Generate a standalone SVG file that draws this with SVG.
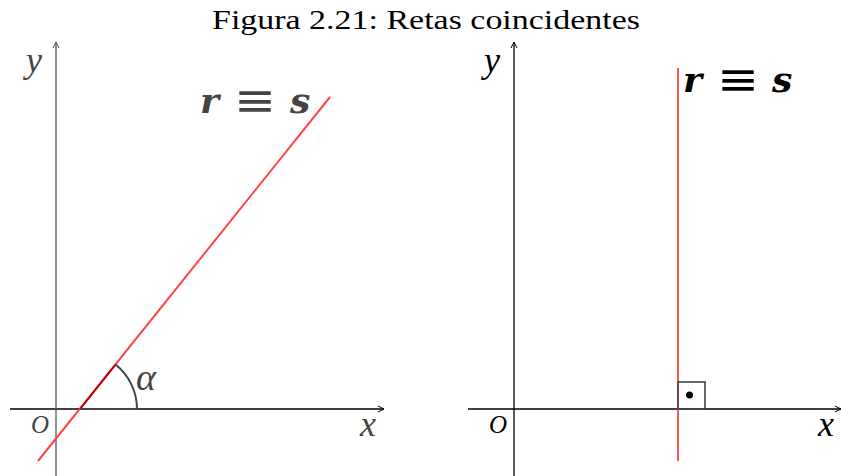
<svg xmlns="http://www.w3.org/2000/svg" width="841" height="476" viewBox="0 0 841 476">
<style>
.t{font-family:"Liberation Serif","DejaVu Serif",serif}
.m{font-family:"Liberation Serif","DejaVu Serif",serif;font-style:italic}
.b{font-family:"DejaVu Serif","Liberation Serif",serif;font-style:italic;font-weight:bold}
.eq{font-family:"DejaVu Sans","Liberation Sans",sans-serif}
.ax{stroke-width:1.3;fill:none}
</style>
<defs>
<marker id="ag" markerWidth="8" markerHeight="8" refX="7" refY="4" orient="auto" markerUnits="userSpaceOnUse"><path d="M1,1 L7,4 L1,7" fill="none" stroke="#555" stroke-width="1"/></marker>
<marker id="ak" markerWidth="8" markerHeight="8" refX="7" refY="4" orient="auto" markerUnits="userSpaceOnUse"><path d="M1,1 L7,4 L1,7" fill="none" stroke="#000" stroke-width="1"/></marker>
</defs>
<rect width="841" height="476" fill="#fff"/>
<text class="t" x="212" y="29" font-size="28" textLength="428" lengthAdjust="spacingAndGlyphs" fill="#000">Figura 2.21: Retas coincidentes</text>

<g id="left">
<g id="axes-left">
<line class="ax" x1="10" y1="409" x2="384" y2="409" stroke="#000" marker-end="url(#ak)"/>
<line class="ax" x1="56" y1="476" x2="56" y2="42" stroke="#555" marker-end="url(#ag)"/>
</g>
<g id="line-rs-left">
<line x1="38" y1="461" x2="330" y2="97" stroke="#f44" stroke-width="2"/>
<line x1="80" y1="409" x2="115.6" y2="364.5" stroke="#b00" stroke-width="2"/>
</g>
<g id="angle-alpha">
<path d="M80,409 L137,409 A57,57 0 0 0 115.6,364.5" fill="none" stroke="#444" stroke-width="2"/>
<text class="m" x="136" y="390" font-size="38" fill="#444">α</text>
</g>
<text class="m" x="31" y="433" font-size="25" fill="#444">O</text>
<text class="m" x="360" y="436" font-size="36" fill="#444">x</text>
<text class="m" x="26" y="72" font-size="36" fill="#444">y</text>
<g id="label-rs-left" fill="#444">
<text class="b" x="200" y="113" font-size="36">r</text>
<text class="eq" x="234" y="116" font-size="46" textLength="42" lengthAdjust="spacingAndGlyphs">≡</text>
<text class="b" x="290" y="113" font-size="36">s</text>
</g>
</g>

<g id="right">
<g id="axes-right">
<line class="ax" x1="468" y1="409" x2="841" y2="409" stroke="#000" marker-end="url(#ak)"/>
<line class="ax" x1="514" y1="476" x2="514" y2="42" stroke="#000" marker-end="url(#ak)"/>
</g>
<line id="line-rs-right" x1="678" y1="68" x2="678" y2="461" stroke="#f55" stroke-width="2"/>
<g id="right-angle">
<rect x="678" y="382" width="27" height="27" fill="none" stroke="#444" stroke-width="1.6"/>
<circle cx="689.5" cy="395" r="3.5" fill="#000"/>
</g>
<text class="m" x="489" y="433" font-size="25" fill="#000">O</text>
<text class="m" x="818" y="436" font-size="36" fill="#000">x</text>
<text class="m" x="484" y="72" font-size="36" fill="#000">y</text>
<g id="label-rs-right" fill="#000">
<text class="b" x="683" y="92" font-size="36">r</text>
<text class="eq" x="717" y="95" font-size="46" textLength="42" lengthAdjust="spacingAndGlyphs">≡</text>
<text class="b" x="772" y="92" font-size="36">s</text>
</g>
</g>
</svg>
